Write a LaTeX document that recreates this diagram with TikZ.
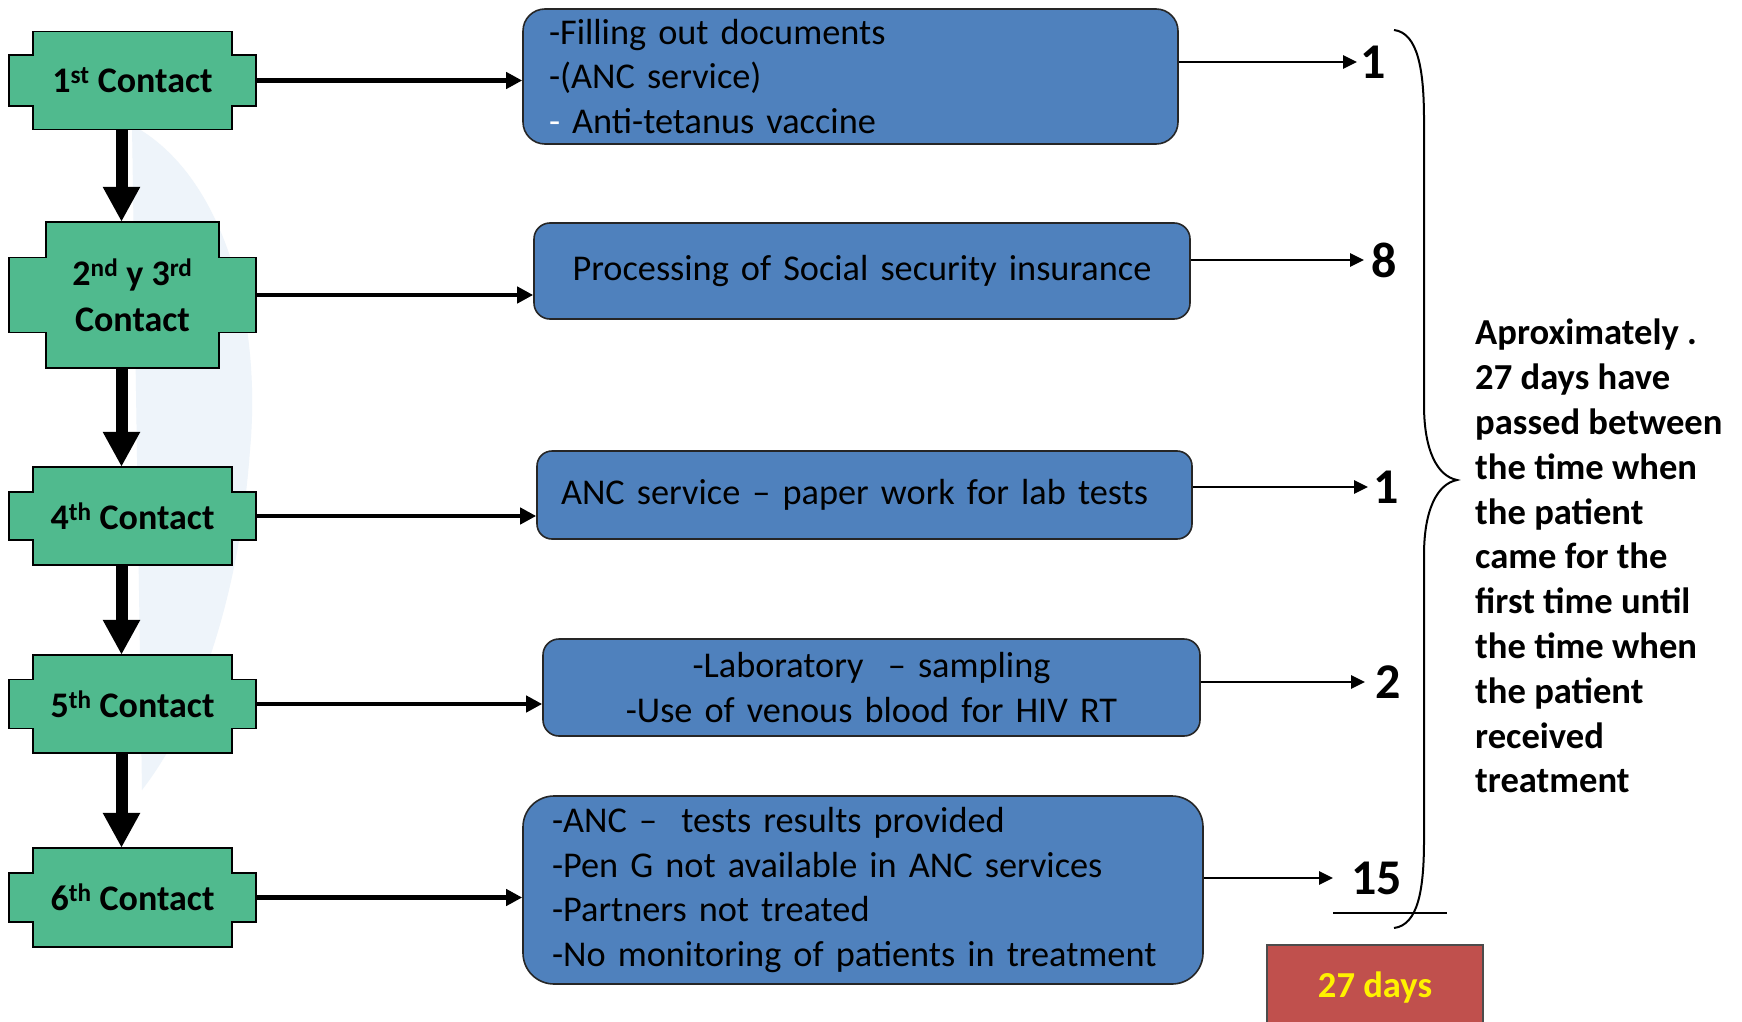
\documentclass[tikz,border=0pt]{standalone}
\usepackage{fontspec}
\setmainfont{Carlito}
\usetikzlibrary{arrows.meta,calc}

\definecolor{contactgreen}{RGB}{80,186,142}
\definecolor{stepblue}{RGB}{79,129,189}
\definecolor{totalred}{RGB}{192,80,77}
\definecolor{watermark}{RGB}{238,244,250}

\tikzset{
  contactshape/.style={fill=contactgreen,draw=black,line width=1.8pt},
  contacttext/.style={draw=none,minimum width=247pt,inner sep=0pt,align=center,
    font=\fontsize{36}{46}\selectfont\bfseries},
  stepbox/.style={fill=stepblue,draw=black!85,line width=1.6pt,inner ysep=0pt,
    font=\fontsize{36.3}{44.6}\selectfont},
  num/.style={inner sep=0pt,font=\fontsize{50}{60}\selectfont\bfseries},
  downarrow/.style={line width=12pt,-{Triangle[length=35pt,width=35pt]}},
  hconn/.style={line width=4.5pt,-{Triangle[length=16pt,width=16pt]}},
  dayconn/.style={line width=2.6pt,-{Triangle[length=14pt,width=13pt]}},
  note/.style={inner sep=0pt,align=left,font=\fontsize{36.6}{44.8}\selectfont\bfseries},
  totalbox/.style={fill=totalred,draw=black!70,line width=1.5pt,minimum width=216pt,
    minimum height=86pt,text=yellow,font=\fontsize{36.6}{44}\selectfont\bfseries},
}

% contact box: cross-shaped outline (tall centre part plus wider middle band)
% #1 name, #2 centre, #3 half width of tall part, #4 half height of tall part,
% #5 half height of middle band, #6 label
\newcommand\contactnode[6]{%
  \filldraw[contactshape,shift={(#2)}]
    (-#3,-#4) -- (#3,-#4) -- (#3,-#5) -- (123.5,-#5) -- (123.5,#5) -- (#3,#5)
    -- (#3,#4) -- (-#3,#4) -- (-#3,#5) -- (-123.5,#5) -- (-123.5,-#5)
    -- (-#3,-#5) -- cycle;
  \node[contacttext,minimum height=2*#4] (#1) at (#2) {#6};}

\begin{document}
\begin{tikzpicture}[x=1pt,y=-1pt]
\clip (0,0) rectangle (1742,1022);
\fill[white] (0,0) rectangle (1742,1022);

% pale logo shape in the background
\fill[watermark] (132,125) .. controls (225,175) and (262,320) .. (250,450)
  .. controls (240,590) and (200,715) .. (142,790) -- cycle;

% contacts
\contactnode{c1}{132.5,80.5}{99.5}{49}{25.5}{1\textsuperscript{st} Contact}
\contactnode{c2}{132.5,295}{86.5}{73}{37.5}{2\textsuperscript{nd} y 3\textsuperscript{rd}\\Contact}
\contactnode{c4}{132.5,516}{99.5}{49}{24}{4\textsuperscript{th} Contact}
\contactnode{c5}{132.5,704}{99.5}{49}{24.5}{5\textsuperscript{th} Contact}
\contactnode{c6}{132.5,897.5}{99.5}{49.5}{24.5}{6\textsuperscript{th} Contact}

\foreach \a/\b in {c1/c2,c2/c4,c4/c5,c5/c6}
  \draw[downarrow] ([xshift=-11pt]\a.south) -- ([xshift=-11pt]\b.north);

% activities at each contact
\node[stepbox,text width=603pt,inner xsep=26pt,minimum height=135pt,align=left,
  rounded corners=22pt] (b1) at (850.5,76.5)
  {-Filling out documents\\-(ANC service)\\ \textcolor{white}{-} Anti-tetanus vaccine};
\node[stepbox,text width=600pt,inner xsep=28pt,minimum height=96pt,align=center,
  rounded corners=16pt] (b2) at (862,271)
  {Processing of Social security insurance};
\node[stepbox,text width=607pt,inner xsep=24pt,minimum height=88pt,align=left,
  rounded corners=15pt] (b3) at (864.5,495)
  {ANC service -- paper work for lab tests};
\node[stepbox,text width=601pt,inner xsep=28pt,minimum height=97pt,align=center,
  rounded corners=16pt] (b4) at (871.5,687.5)
  {-Laboratory \ -- sampling\\-Use of venous blood for HIV RT};
\node[stepbox,text width=622pt,inner xsep=29pt,minimum height=188pt,align=left,
  rounded corners=31pt] (b5) at (863,890)
  {-ANC --\ \ tests results provided\\-Pen G not available in ANC services\\
   -Partners not treated\\-No monitoring of patients in treatment};

\foreach \c/\b in {c1/b1,c2/b2,c4/b3,c5/b4,c6/b5}
  \draw[hconn] (\c.east) -- (\c.east -| \b.west);

% days spent at each step
\node[num,anchor=west] (n1) at (1360,62) {1};
\node[num,anchor=west] (n2) at (1371,260) {8};
\node[num,anchor=west] (n3) at (1373,487) {1};
\node[num,anchor=west] (n4) at (1375,682) {2};
\node[num,anchor=west] (n5) at (1351,878) {15};

\draw[dayconn] (b1.east |- n1.west) -- ([xshift=-3pt]n1.west);
\draw[dayconn] (b2.east |- n2.west) -- ([xshift=-7pt]n2.west);
\draw[dayconn] (b3.east |- n3.west) -- ([xshift=-5pt]n3.west);
\draw[dayconn] (b4.east |- n4.west) -- ([xshift=-10pt]n4.west);
\draw[dayconn] (b5.east |- n5.west) -- ([xshift=-18pt]n5.west);

% sum line under the last value
\coordinate (sumL) at (1333,913);
\coordinate (sumR) at (1447,913);
\draw[line width=2pt] (sumL) -- (sumR);

% right brace grouping all steps
\draw[line width=2pt]
  (1394,30) .. controls (1418,33) and (1424,70) .. (1424,120)
  -- (1424,405) .. controls (1424,450) and (1437,476) .. (1457,480)
  .. controls (1437,484) and (1424,510) .. (1424,555)
  -- (1424,840) .. controls (1424,890) and (1418,925) .. (1394,928);

\node[note,anchor=north west] (note) at (1475,319)
  {Aproximately .\\27 days have\\passed between\\the time when\\the patient\\
   came for the\\first time until\\the time when\\the patient\\received\\treatment};

\node[totalbox] (total) at (1375,988) {27 days};
\end{tikzpicture}
\end{document}
